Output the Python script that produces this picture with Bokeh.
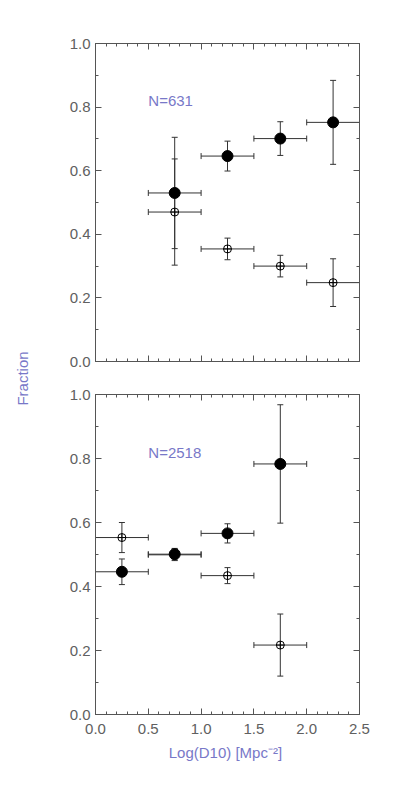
import math
from bokeh.plotting import figure
from bokeh.layouts import row, column
from bokeh.models import (Range1d, LinearAxis, FixedTicker, PrintfTickFormatter,
                          Label, ColumnDataSource, Whisker, TeeHead)
from bokeh.embed import file_html
from bokeh.resources import INLINE

# ---------------- data ----------------
half_bin = 0.25
# top panel (N=631)
top_x_filled = [0.75, 1.25, 1.75, 2.25]
top_y_filled = [0.530, 0.646, 0.701, 0.752]
top_e_filled = [0.175, 0.047, 0.053, 0.132]
top_x_open = [0.75, 1.25, 1.75, 2.25]
top_y_open = [0.470, 0.354, 0.300, 0.248]
top_e_open = [0.167, 0.034, 0.034, 0.075]
# bottom panel (N=2518)
bot_x_filled = [0.25, 0.75, 1.25, 1.75]
bot_y_filled = [0.446, 0.501, 0.566, 0.783]
bot_e_filled = [0.040, 0.018, 0.030, 0.185]
bot_x_open = [0.25, 0.75, 1.25, 1.75]
bot_y_open = [0.553, 0.499, 0.434, 0.217]
bot_e_open = [0.047, 0.018, 0.025, 0.097]

top_label = "N=631"
bot_label = "N=2518"
y_title = "Fraction"
x_title = "Log(D10)  [Mpc\u207b\u00b2]"
y_ticks = [0.0, 0.2, 0.4, 0.6, 0.8, 1.0]
y_minor = [0.1, 0.3, 0.5, 0.7, 0.9]
x_ticks = [0.0, 0.5, 1.0, 1.5, 2.0, 2.5]
x_minor = [0.1, 0.2, 0.3, 0.4, 0.6, 0.7, 0.8, 0.9, 1.1, 1.2, 1.3, 1.4,
           1.6, 1.7, 1.8, 1.9, 2.1, 2.2, 2.3, 2.4]

FONT = "Liberation Sans"
FS = "15px"
AXC = "#555555"
TXC = "#606060"
LAV = "#7878c8"
BAR = "#333333"


def style_axis(ax, labels=True, xaxis=True):
    ax.axis_line_color = AXC
    ax.major_tick_line_color = AXC
    ax.minor_tick_line_color = AXC
    ax.major_tick_in = 6
    ax.major_tick_out = 0
    ax.minor_tick_in = 3
    ax.minor_tick_out = 0
    if xaxis:
        ax.ticker = FixedTicker(ticks=x_ticks, minor_ticks=x_minor)
    else:
        ax.ticker = FixedTicker(ticks=y_ticks, minor_ticks=y_minor)
    ax.formatter = PrintfTickFormatter(format="%.1f")
    ax.major_label_text_font = FONT
    ax.major_label_text_font_size = FS
    ax.major_label_text_color = TXC if labels else None


def make_panel(height, border_top, border_bottom, show_xlabels,
               xf, yf, ef, xo, yo, eo, ntext):
    p = figure(width=347, height=height, toolbar_location=None,
               output_backend="svg",
               x_range=Range1d(0, 2.5), y_range=Range1d(0, 1.0),
               min_border_left=57, min_border_right=26,
               min_border_top=border_top, min_border_bottom=border_bottom,
               outline_line_color=AXC, x_axis_location=None,
               y_axis_location=None)
    p.grid.visible = False
    p.background_fill_color = "white"
    p.border_fill_color = "white"
    ax_bottom = LinearAxis()
    style_axis(ax_bottom, labels=show_xlabels, xaxis=True)
    ax_bottom.major_label_standoff = 9
    p.add_layout(ax_bottom, "below")
    ax_left = LinearAxis()
    style_axis(ax_left, labels=True, xaxis=False)
    ax_left.major_label_standoff = 5
    p.add_layout(ax_left, "left")
    ax_top = LinearAxis()
    style_axis(ax_top, labels=False, xaxis=True)
    p.add_layout(ax_top, "above")
    ax_right = LinearAxis()
    style_axis(ax_right, labels=False, xaxis=False)
    p.add_layout(ax_right, "right")

    for xs, ys, es in ((xo, yo, eo), (xf, yf, ef)):
        src = ColumnDataSource(dict(
            x=xs, y=ys,
            xl=[max(0.0, v - half_bin) for v in xs],
            xh=[min(2.5, v + half_bin) for v in xs],
            yl=[a - b for a, b in zip(ys, es)],
            yh=[a + b for a, b in zip(ys, es)]))
        p.add_layout(Whisker(source=src, base="y", lower="xl", upper="xh",
                             dimension="width", line_color=BAR, line_width=1,
                             upper_head=TeeHead(size=6, line_color=BAR),
                             lower_head=TeeHead(size=6, line_color=BAR)))
        p.add_layout(Whisker(source=src, base="x", lower="yl", upper="yh",
                             dimension="height", line_color=BAR, line_width=1,
                             upper_head=TeeHead(size=6, line_color=BAR),
                             lower_head=TeeHead(size=6, line_color=BAR)))
    so = ColumnDataSource(dict(x=xo, y=yo))
    p.scatter("x", "y", source=so, marker="circle_cross", size=8,
              fill_color=None, line_color="black", line_width=1)
    sf = ColumnDataSource(dict(x=xf, y=yf))
    p.scatter("x", "y", source=sf, marker="circle", size=11,
              fill_color="black", line_color="black")
    p.add_layout(Label(x=0.5, y=0.82, text=ntext, text_font=FONT,
                       text_font_size=FS, text_color=LAV,
                       text_baseline="middle", text_align="left"))
    return p, ax_bottom


p1, _ = make_panel(378, 43, 17, False,
                   top_x_filled, top_y_filled, top_e_filled,
                   top_x_open, top_y_open, top_e_open, top_label)
p2, xb = make_panel(392, 16, 56, True,
                    bot_x_filled, bot_y_filled, bot_e_filled,
                    bot_x_open, bot_y_open, bot_e_open, bot_label)
xb.axis_label = x_title
xb.axis_label_text_font = FONT
xb.axis_label_text_font_size = FS
xb.axis_label_text_font_style = "normal"
xb.axis_label_text_color = LAV
xb.axis_label_standoff = 7

lab = figure(width=38, height=770, toolbar_location=None, output_backend="svg",
             x_range=Range1d(0, 1), y_range=Range1d(0, 1),
             min_border=0, outline_line_color=None)
lab.axis.visible = False
lab.grid.visible = False
lab.add_layout(Label(x=22, y=392, x_units="screen", y_units="screen",
                     text=y_title, angle=math.pi / 2, text_font=FONT,
                     text_font_size=FS, text_color=LAV,
                     text_align="center", text_baseline="middle"))

layout = row(lab, column(p1, p2))
open("out.html", "w").write(file_html(layout, INLINE))
